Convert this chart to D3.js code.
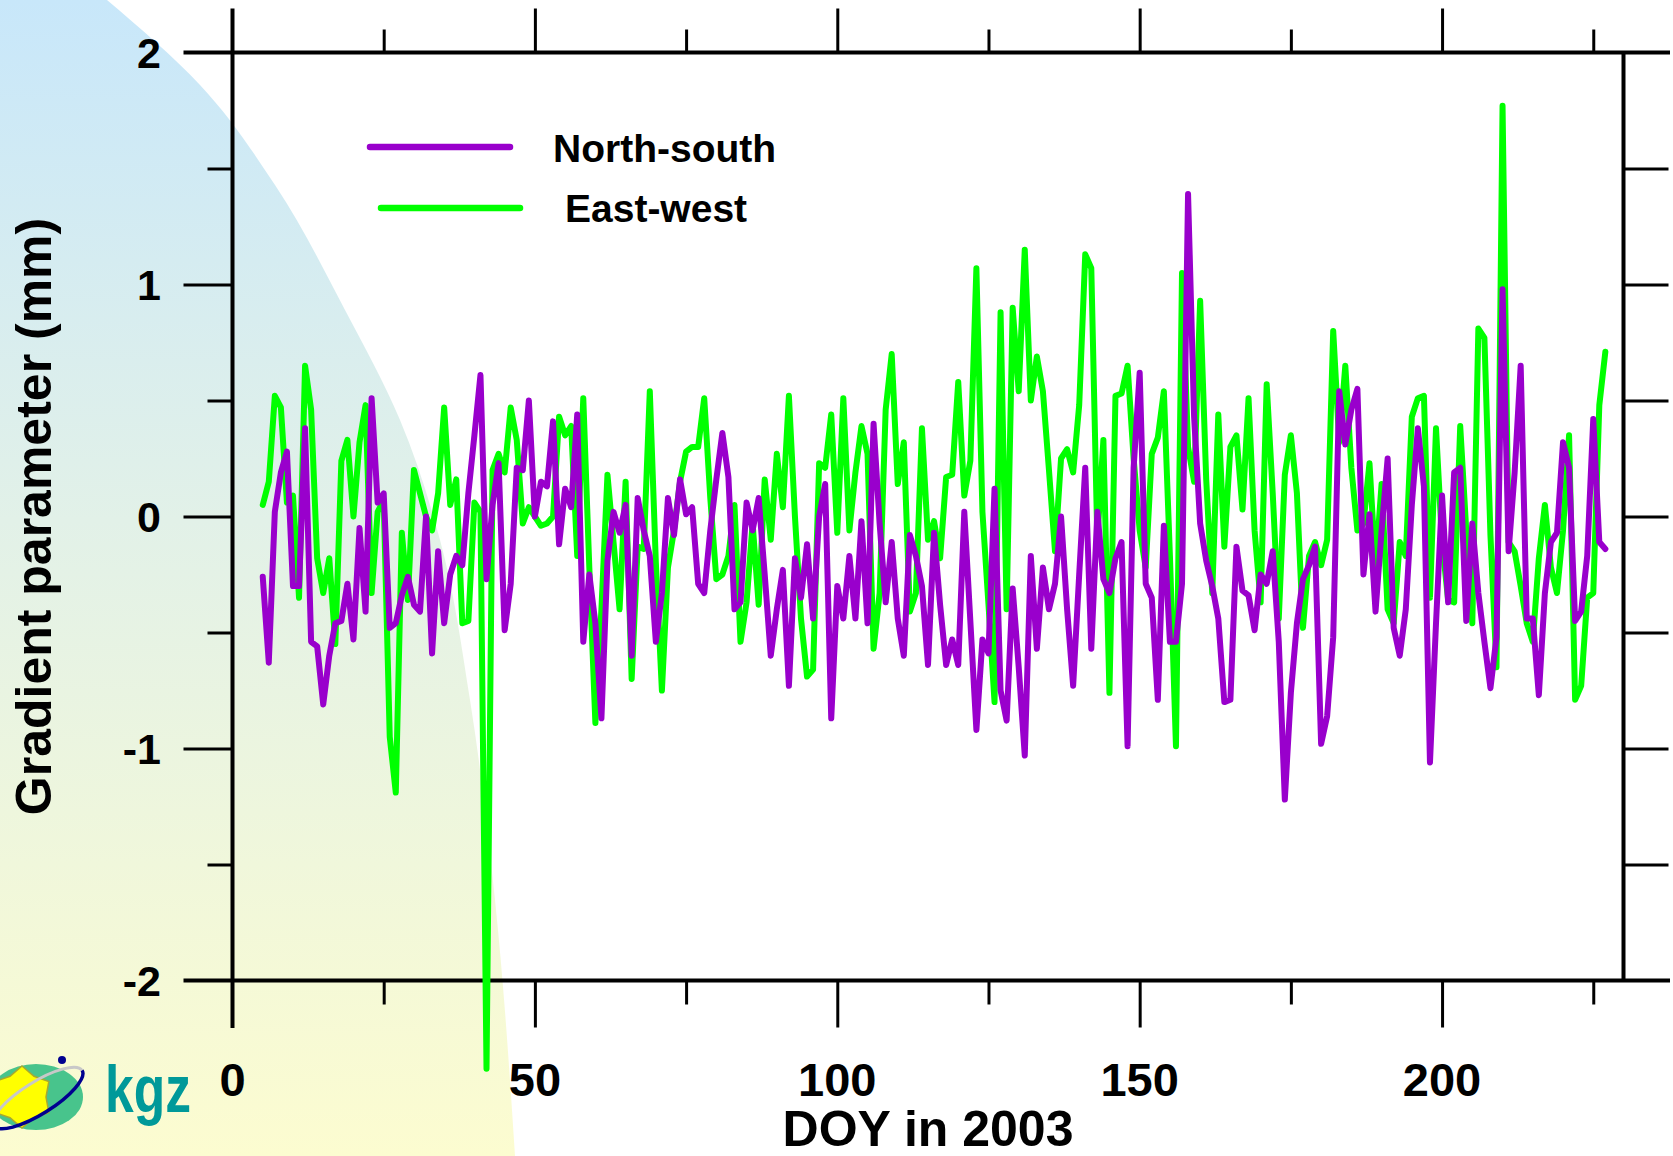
<!DOCTYPE html>
<html>
<head>
<meta charset="utf-8">
<script src="https://cdn.jsdelivr.net/npm/d3@7"></script>
<style>
  html, body { margin: 0; padding: 0; background: #fff; }
  svg { display: block; }
  text { font-family: "Liberation Sans", Arial, sans-serif; font-weight: bold; }
</style>
</head>
<body>
<div id="chart"></div>
<script>
// daily gradient parameters (mm), first value is DOY 5
const firstDoy = 5;

const northSouth = [
  -0.26, -0.63, 0.02, 0.19, 0.28, -0.30, -0.30, 0.38, -0.54, -0.56,
  -0.81, -0.60, -0.46, -0.45, -0.29, -0.53, -0.05, -0.41, 0.51, 0.06,
  0.10, -0.48, -0.46, -0.34, -0.26, -0.38, -0.41, 0.00, -0.59, -0.15,
  -0.46, -0.25, -0.17, -0.21, 0.10, 0.35, 0.61, -0.27, 0.05, 0.23,
  -0.49, -0.29, 0.21, 0.20, 0.50, 0.00, 0.15, 0.13, 0.41, -0.12,
  0.12, 0.04, 0.44, -0.54, -0.25, -0.46, -0.87, -0.19, 0.02, -0.07,
  0.05, -0.60, 0.08, -0.06, -0.17, -0.54, -0.33, 0.08, -0.08, 0.16,
  0.01, 0.04, -0.29, -0.33, -0.06, 0.16, 0.36, 0.17, -0.40, -0.37,
  0.06, -0.06, 0.08, -0.25, -0.60, -0.40, -0.23, -0.73, -0.18, -0.35,
  -0.12, -0.44, 0.00, 0.14, -0.87, -0.30, -0.44, -0.17, -0.44, -0.02,
  -0.46, 0.40, -0.03, -0.37, -0.11, -0.44, -0.60, -0.08, -0.17, -0.30,
  -0.64, -0.07, -0.38, -0.64, -0.53, -0.64, 0.02, -0.45, -0.92, -0.53,
  -0.59, 0.12, -0.75, -0.88, -0.31, -0.65, -1.03, -0.17, -0.57, -0.22,
  -0.40, -0.29, 0.00, -0.40, -0.73, -0.25, 0.21, -0.57, 0.02, -0.27,
  -0.33, -0.18, -0.11, -0.99, 0.21, 0.62, -0.29, -0.35, -0.79, -0.04,
  -0.54, -0.54, -0.29, 1.39, 0.43, -0.03, -0.19, -0.30, -0.44, -0.80,
  -0.79, -0.13, -0.32, -0.34, -0.49, -0.25, -0.29, -0.15, -0.54, -1.22,
  -0.76, -0.46, -0.27, -0.21, -0.13, -0.98, -0.86, -0.52, 0.54, 0.31,
  0.46, 0.55, -0.25, 0.01, -0.41, -0.06, 0.25, -0.48, -0.60, -0.40,
  0.05, 0.38, 0.13, -1.06, -0.46, 0.09, -0.37, 0.19, 0.21, -0.45,
  -0.03, -0.33, -0.54, -0.74, -0.52, 0.98, -0.15, 0.19, 0.65, -0.44,
  -0.44, -0.77, -0.33, -0.11, -0.07, 0.32, 0.21, -0.45, -0.41, -0.17,
  0.42, -0.11, -0.14
];

const eastWest = [
  0.05, 0.15, 0.52, 0.47, 0.06, 0.09, -0.35, 0.65, 0.46, -0.18,
  -0.33, -0.18, -0.55, 0.24, 0.33, 0.00, 0.32, 0.48, -0.33, 0.02,
  0.07, -0.95, -1.19, -0.07, -0.36, 0.20, 0.10, 0.00, -0.06, 0.10,
  0.47, 0.05, 0.16, -0.46, -0.45, 0.06, 0.02, -2.38, 0.20, 0.27,
  0.19, 0.47, 0.33, -0.03, 0.04, 0.00, -0.04, -0.03, 0.00, 0.43,
  0.35, 0.39, -0.17, 0.51, -0.22, -0.89, -0.40, 0.18, -0.11, -0.40,
  0.15, -0.70, -0.13, -0.14, 0.54, -0.20, -0.75, -0.22, -0.06, 0.15,
  0.28, 0.30, 0.30, 0.51, 0.08, -0.27, -0.25, -0.17, 0.05, -0.54,
  -0.37, -0.03, -0.38, 0.16, -0.10, 0.27, 0.04, 0.52, 0.00, -0.44,
  -0.69, -0.66, 0.23, 0.21, 0.44, -0.07, 0.51, -0.06, 0.19, 0.39,
  0.27, -0.57, -0.33, 0.46, 0.70, 0.14, 0.32, -0.41, -0.33, 0.38,
  -0.10, -0.02, -0.18, 0.17, 0.18, 0.58, 0.09, 0.24, 1.07, 0.02,
  -0.38, -0.80, 0.88, -0.40, 0.90, 0.54, 1.15, 0.50, 0.69, 0.54,
  0.20, -0.15, 0.25, 0.29, 0.19, 0.48, 1.13, 1.07, -0.10, 0.33,
  -0.76, 0.52, 0.53, 0.65, 0.25, -0.06, -0.22, 0.27, 0.34, 0.54,
  -0.17, -0.99, 1.05, 0.30, 0.15, 0.93, 0.16, -0.33, 0.44, -0.13,
  0.30, 0.35, 0.03, 0.51, -0.06, -0.37, 0.57, 0.10, -0.44, 0.18,
  0.35, 0.10, -0.48, -0.17, -0.11, -0.21, -0.10, 0.80, 0.32, 0.65,
  0.21, -0.06, -0.03, 0.23, -0.22, 0.14, -0.40, -0.46, -0.11, -0.17,
  0.43, 0.51, 0.52, -0.35, 0.38, -0.11, -0.36, -0.37, 0.39, -0.06,
  -0.46, 0.81, 0.77, -0.08, -0.65, 1.77, -0.11, -0.15, -0.30, -0.46,
  -0.54, -0.18, 0.05, -0.22, -0.33, -0.06, 0.35, -0.79, -0.73, -0.35,
  -0.33, 0.48, 0.71
];

const xMajorTicks = [0, 50, 100, 150, 200];
const xMinorTicks = [25, 75, 125, 175, 225];
const yMajorTicks = [-2, -1, 0, 1, 2];
const yMinorTicks = [-1.5, -0.5, 0.5, 1.5];
const yRightTicks = [-1.5, -1, -0.5, 0, 0.5, 1, 1.5];
const seriesNames = ['North-south', 'East-west'];
const seriesColors = ['#9900cc', '#00ff00'];

const W = 1673, H = 1156;

const svg = d3.select('#chart').append('svg')
  .attr('width', W)
  .attr('height', H)
  .attr('viewBox', [0, 0, W, H]);

const x = d3.scaleLinear().domain([0, 230]).range([232.5, 1623.5]);
const y = d3.scaleLinear().domain([-2, 2]).range([980.5, 52.5]);

// background swoosh in the top left corner
const defs = svg.append('defs');
const grad = defs.append('linearGradient')
  .attr('id', 'bg').attr('x1', 0).attr('y1', 0).attr('x2', 0).attr('y2', 1);
grad.append('stop').attr('offset', '0%').attr('stop-color', '#c8e7fa');
grad.append('stop').attr('offset', '45%').attr('stop-color', '#e2f1e8');
grad.append('stop').attr('offset', '100%').attr('stop-color', '#fcfcd0');

const edge = [[107, 0], [200, 85], [275, 185], [345, 310], [400, 420], [440, 540], [470, 700], [495, 900], [515, 1156]];
const edgePath = d3.line().curve(d3.curveMonotoneY)(edge);
svg.append('path')
  .attr('d', edgePath + 'L0,1156L0,0Z')
  .attr('fill', 'url(#bg)');

// frame lines
const frame = svg.append('g').attr('stroke', '#000').attr('stroke-width', 4);
frame.append('line').attr('x1', 183.5).attr('x2', 1670).attr('y1', y(2)).attr('y2', y(2));
frame.append('line').attr('x1', 183.5).attr('x2', 1670).attr('y1', y(-2)).attr('y2', y(-2));
frame.append('line').attr('x1', x(0)).attr('x2', x(0)).attr('y1', 8.5).attr('y2', 1028);
frame.append('line').attr('x1', x(230)).attr('x2', x(230)).attr('y1', y(2)).attr('y2', y(-2));

// ticks
function styleAxis(g) {
  g.select('.domain').remove();
  g.selectAll('.tick line').attr('stroke', '#000').attr('stroke-width', 3);
  g.selectAll('.tick text').remove();
}
svg.append('g').attr('transform', `translate(0,${y(-2)})`)
  .call(d3.axisBottom(x).tickValues(xMajorTicks.slice(1)).tickSize(47)).call(styleAxis);
svg.append('g').attr('transform', `translate(0,${y(-2)})`)
  .call(d3.axisBottom(x).tickValues(xMinorTicks).tickSize(24)).call(styleAxis);
svg.append('g').attr('transform', `translate(0,${y(2)})`)
  .call(d3.axisTop(x).tickValues(xMajorTicks.slice(1)).tickSize(44)).call(styleAxis);
svg.append('g').attr('transform', `translate(0,${y(2)})`)
  .call(d3.axisTop(x).tickValues(xMinorTicks).tickSize(23)).call(styleAxis);
svg.append('g').attr('transform', `translate(${x(0)},0)`)
  .call(d3.axisLeft(y).tickValues(yMajorTicks.slice(1, 4)).tickSize(49)).call(styleAxis);
svg.append('g').attr('transform', `translate(${x(0)},0)`)
  .call(d3.axisLeft(y).tickValues(yMinorTicks).tickSize(25)).call(styleAxis);
svg.append('g').attr('transform', `translate(${x(230)},0)`)
  .call(d3.axisRight(y).tickValues(yRightTicks).tickSize(45)).call(styleAxis);

// tick labels
svg.append('g').selectAll('text')
  .data(yMajorTicks)
  .join('text')
  .attr('x', 161)
  .attr('y', d => y(d))
  .attr('dy', '0.36em')
  .attr('text-anchor', 'end')
  .attr('font-size', 43)
  .text(d => d);

svg.append('g').selectAll('text')
  .data(xMajorTicks)
  .join('text')
  .attr('x', d => x(d))
  .attr('y', 1096)
  .attr('text-anchor', 'middle')
  .attr('font-size', 47)
  .text(d => d);

// axis titles
svg.append('text')
  .attr('transform', `translate(51,${y(0)}) rotate(-90)`)
  .attr('text-anchor', 'middle')
  .attr('font-size', 50)
  .text('Gradient parameter (mm)');

svg.append('text')
  .attr('x', (x(0) + x(230)) / 2)
  .attr('y', 1146)
  .attr('text-anchor', 'middle')
  .attr('font-size', 50)
  .text('DOY in 2003');

// series lines, green under purple
const line = d3.line()
  .x((d, i) => x(firstDoy + i))
  .y(d => y(d));

[eastWest, northSouth].forEach((vals, j) => {
  svg.append('path')
    .datum(vals)
    .attr('d', line)
    .attr('fill', 'none')
    .attr('stroke', j === 0 ? seriesColors[1] : seriesColors[0])
    .attr('stroke-width', 6)
    .attr('stroke-linejoin', 'round')
    .attr('stroke-linecap', 'round');
});

// legend
const legend = svg.append('g');
const legendRows = [
  { x1: 370, x2: 510, ly: 147, tx: 553, ty: 162 },
  { x1: 381, x2: 520, ly: 208, tx: 565, ty: 222 }
];
legendRows.forEach((r, i) => {
  legend.append('line')
    .attr('x1', r.x1).attr('x2', r.x2).attr('y1', r.ly).attr('y2', r.ly)
    .attr('stroke', seriesColors[i])
    .attr('stroke-width', 6.5)
    .attr('stroke-linecap', 'round');
  legend.append('text')
    .attr('x', r.tx).attr('y', r.ty)
    .attr('font-size', 39)
    .text(seriesNames[i]);
});

// kgz logo, bottom left
const logo = svg.append('g');
logo.append('ellipse')
  .attr('cx', 36).attr('cy', 1097).attr('rx', 47).attr('ry', 33)
  .attr('fill', '#48c48c');
const star = d3.range(12).map(i => {
  const a = -Math.PI / 2 + i * Math.PI / 6;
  const r = i % 2 === 0 ? 31 : 24;
  return [22 + r * Math.cos(a), 1097 + r * Math.sin(a)];
});
logo.append('path')
  .attr('d', d3.line().curve(d3.curveLinearClosed)(star))
  .attr('fill', '#ffff00')
  .attr('stroke', '#a8a830')
  .attr('stroke-width', 1.5);
const orbit = logo.append('g').attr('transform', 'rotate(-32,38,1098)').attr('fill', 'none');
orbit.append('path')
  .attr('d', 'M-14,1098 A52,16 0 0 1 90,1098')
  .attr('stroke', '#c8c8c8').attr('stroke-width', 3);
orbit.append('path')
  .attr('d', 'M90,1098 A52,16 0 0 1 -14,1098')
  .attr('stroke', '#000090').attr('stroke-width', 3.5);
logo.append('circle').attr('cx', 62).attr('cy', 1060).attr('r', 4).attr('fill', '#000090');
logo.append('text')
  .attr('x', 105).attr('y', 1112)
  .attr('font-size', 66)
  .attr('textLength', 86)
  .attr('lengthAdjust', 'spacingAndGlyphs')
  .attr('fill', '#009999')
  .text('kgz');
</script>
</body>
</html>
